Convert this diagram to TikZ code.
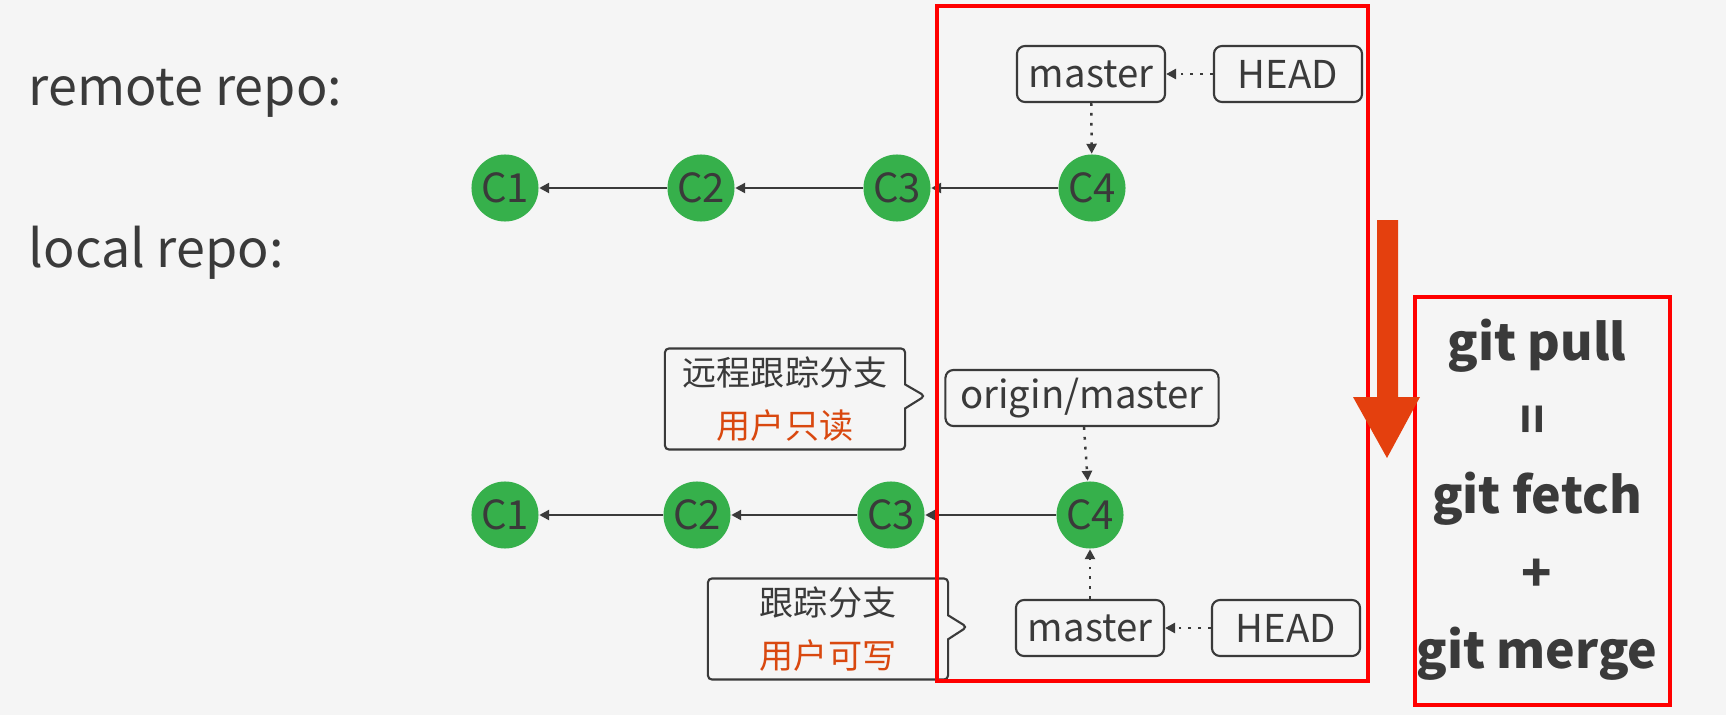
\documentclass[tikz,border=0pt]{standalone}
\usepackage{fontspec}
\setmainfont{Noto Sans CJK SC}
\usetikzlibrary{arrows.meta,shapes.callouts}

\definecolor{bgcol}{HTML}{F5F5F5}
\definecolor{commitgreen}{HTML}{36B04B}
\definecolor{inkgray}{HTML}{3A3A3A}
\definecolor{pullred}{HTML}{E4400E}
\definecolor{noteorange}{HTML}{D9480F}
\definecolor{framered}{HTML}{FF0000}

\tikzset{
    commit/.style={circle,fill=commitgreen,minimum size=0.67cm,inner sep=0pt,text=inkgray,font=\fontsize{11.4}{12}\selectfont},
    ref/.style={rectangle,draw=inkgray,line width=0.6pt,rounded corners=0.08cm,fill=bgcol,minimum height=0.56cm,minimum width=1.48cm,inner sep=0pt,text=inkgray,font=\fontsize{10.9}{12}\selectfont},
    parent/.style={draw=inkgray,line width=0.7pt,-{Triangle[length=0.1cm,width=0.1cm]}},
    pointsto/.style={draw=inkgray,line width=0.7pt,dash pattern=on 0.8pt off 2pt,-{Triangle[length=0.1cm,width=0.1cm]}},
    note/.style={rectangle callout,draw=inkgray,line width=0.6pt,fill=bgcol,rounded corners=0.04cm,callout pointer width=0.24cm,minimum width=2.4cm,minimum height=1.01cm,inner sep=0pt,align=center,text=inkgray,font=\fontsize{9.7}{15}\selectfont},
    frame/.style={draw=framered,line width=1.15pt},
    repolabel/.style={anchor=base west,inner sep=0pt,text=inkgray,font=\fontsize{14.8}{18}\selectfont},
    pulltext/.style={inner sep=0pt,text=inkgray,font=\bfseries\fontsize{14.2}{16}\selectfont}
}

\begin{document}
\begin{tikzpicture}[x=0.01cm,y=-0.01cm]
    \useasboundingbox (0,0) rectangle (1726,715);
    \fill[bgcol] (0,0) rectangle (1726,715);

    % repo labels
    \node[repolabel] (remotelabel) at (28,105) {remote repo:};
    \node[repolabel] (locallabel) at (28,267) {local repo:};

    % remote commits
    \node[commit] (rc1) at (505,188) {C1};
    \node[commit] (rc2) at (701,188) {C2};
    \node[commit] (rc3) at (897,188) {C3};
    \node[commit] (rc4) at (1092,188) {C4};
    \node[ref] (rmaster) at (1091,74) {master};
    \node[ref] (rhead) at (1288,74) {HEAD};

    \draw[parent] (rc2) -- (rc1);
    \draw[parent] (rc3) -- (rc2);
    \draw[parent] (rc4) -- (rc3);
    \draw[pointsto] (rhead) -- (rmaster);
    \draw[pointsto] (rmaster) -- (rc4);

    % local commits
    \node[commit] (lc1) at (505,515) {C1};
    \node[commit] (lc2) at (697,515) {C2};
    \node[commit] (lc3) at (891,515) {C3};
    \node[commit] (lc4) at (1090,515) {C4};
    \node[ref,minimum width=2.73cm] (omaster) at (1082,398) {origin/master};
    \node[ref] (lmaster) at (1090,628) {master};
    \node[ref] (lhead) at (1286,628) {HEAD};

    \draw[parent] (lc2) -- (lc1);
    \draw[parent] (lc3) -- (lc2);
    \draw[parent] (lc4) -- (lc3);
    \draw[pointsto] (omaster) -- (lc4);
    \draw[pointsto] (lmaster) -- (lc4);
    \draw[pointsto] (lhead) -- (lmaster);

    % notes
    \coordinate (tipA) at (925,396);
    \coordinate (tipB) at (967,627);
    \node[note,callout absolute pointer=(tipA)] (trackremote) at (785,399) {远程跟踪分支\\\textcolor{noteorange}{用户只读}};
    \node[note,callout absolute pointer=(tipB)] (tracklocal) at (828,629) {跟踪分支\\\textcolor{noteorange}{用户可写}};

    % frames
    \draw[frame] (937,6) rectangle (1368,681);
    \draw[frame] (1415,297) rectangle (1670,705);

    % pull arrow
    \fill[pullred] (1377,220) -- (1398,220) -- (1398,397) -- (1420,397) -- (1387,458) -- (1353,397) -- (1377,397) -- cycle;

    % git pull = git fetch + git merge
    \node[pulltext,anchor=base] (gitpull) at (1537,360) {git pull};
    \node[pulltext,rotate=90] (equals) at (1537,419) {=};
    \node[pulltext,anchor=base] (gitfetch) at (1537,513) {git fetch};
    \node[pulltext] (plus) at (1537,575) {+};
    \node[pulltext,anchor=base] (gitmerge) at (1537,668) {git merge};
\end{tikzpicture}
\end{document}
